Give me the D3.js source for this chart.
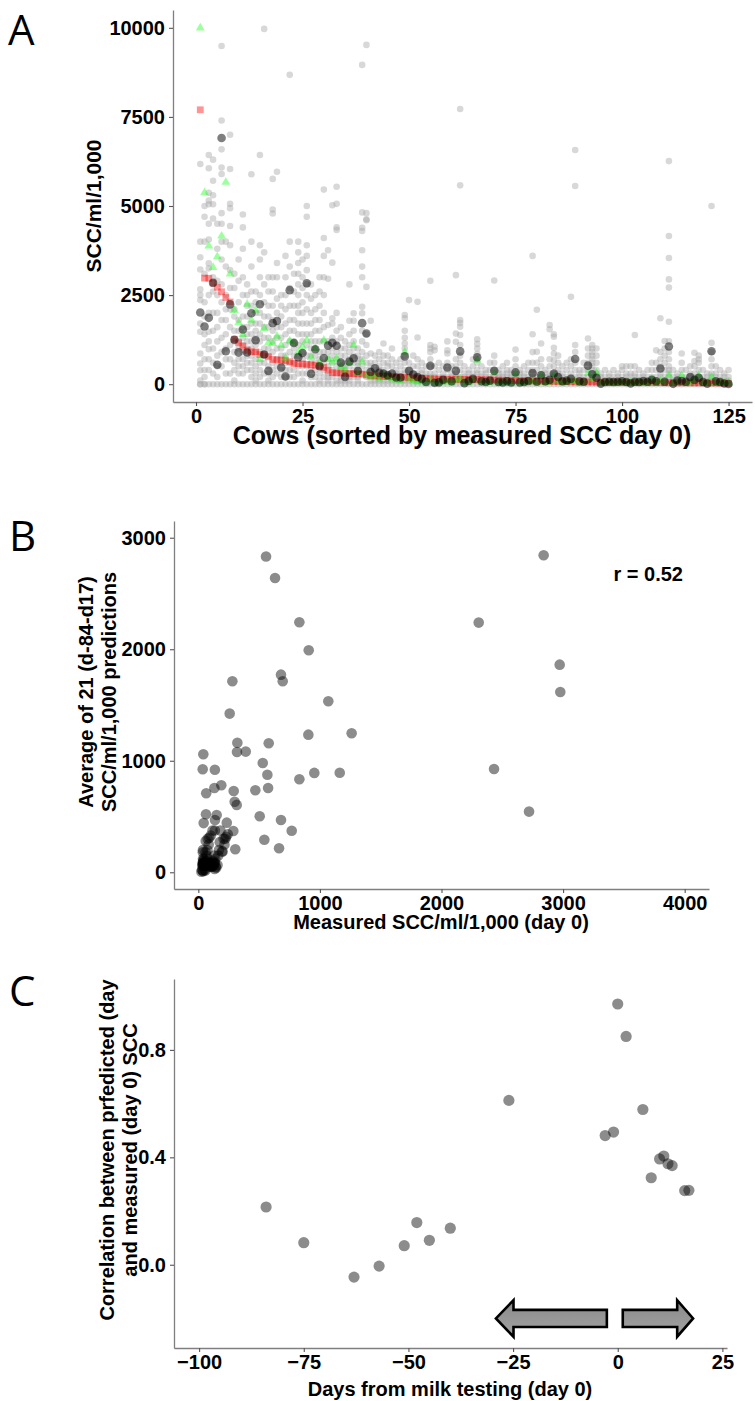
<!DOCTYPE html>
<html>
<head>
<meta charset="utf-8">
<script src="https://cdn.jsdelivr.net/npm/d3@7"></script>
<style>
body { margin: 0; background: #fff; }
svg text { font-family: "Liberation Sans", Arial, sans-serif; font-weight: bold; fill: #000; }
.panel-label { font-family: "Open Sans", "DejaVu Sans", sans-serif; font-weight: normal; font-size: 42px; }
</style>
</head>
<body>
<svg id="chart" width="755" height="1401"></svg>
<script>
// measured SCC at day 0, cows sorted by it (panel A red squares, panel B x)
const measuredDay0 = [7700, 2977, 2972, 2840, 2720, 2593, 2432, 2306, 1261, 1163,
  1069, 954, 908, 905, 831, 831, 768, 694, 680, 680,
  664, 631, 579, 574, 568, 557, 543, 530, 505, 469,
  390, 321, 318, 316, 304, 299, 291, 288, 280, 258,
  242, 234, 228, 222, 215, 208, 200, 194, 189, 182,
  176, 170, 164, 158, 151, 147, 143, 140, 137, 137,
  136, 136, 134, 133, 132, 132, 128, 124, 120, 117,
  114, 111, 108, 105, 102, 99, 96, 93, 90, 88,
  85, 82, 80, 77, 75, 72, 70, 67, 65, 64,
  63, 63, 61, 60, 58, 57, 56, 55, 54, 53,
  52, 51, 50, 49, 48, 47, 46, 45, 44, 42,
  41, 40, 40, 39, 39, 38, 38, 37, 37, 36,
  36, 35, 33, 30, 25];

// average of the 21 predictions per cow (panel A dark circles, panel B y)
const avgPrediction = [2013, 1617, 1862, 2843, 544, 6910, 926, 2239, 1247, 893,
  1534, 891, 1991, 1234, 2242, 834, 373, 1713, 1772, 469,
  215, 2639, 1157, 756, 875, 2831, 292, 980, 502, 735,
  1082, 1162, 1079, 604, 206, 633, 729, 370, 1713, 1423,
  341, 445, 318, 300, 250, 300, 187, 187, 780, 374,
  270, 200, 150, 65, 514, 40, 50, 120, 469, 80,
  374, 920, 30, 90, 150, 756, 80, 60, 100, 374,
  60, 50, 80, 50, 330, 50, 60, 90, 310, 70,
  250, 80, 120, 300, 200, 80, 100, 150, 708, 80,
  70, 520, 280, 180, 15, 60, 70, 60, 70, 80,
  60, 20, 70, 60, 90, 70, 120, 80, 441, 70,
  1058, 10, 100, 90, 70, 200, 120, 180, 60, 15,
  924, 80, 60, 20, 5];

// prediction made on day 0 (panel A green triangles)
const day0Prediction = [10000, 5374, 3876, 3277, 3577, 4157, 5665, 3090, 2069, 1723,
  1395, 2247, 1798, 2079, 693, 1564, 1161, 1142, 1348, 1096,
  730, 1217, 1142, 900, 1049, 1236, 749, 1000, 600, 1236,
  700, 627, 720, 500, 400, 600, 1096, 300, 627, 250,
  200, 250, 150, 280, 200, 150, 120, 100, 908, 150,
  100, 60, 80, 30, 120, 20, 40, 60, 100, 40,
  120, 150, 30, 50, 120, 674, 60, 40, 50, 300,
  30, 40, 60, 30, 290, 40, 30, 60, 80, 40,
  253, 50, 60, 250, 100, 40, 60, 80, 100, 30,
  60, 300, 150, 318, 30, 40, 60, 50, 40, 60,
  30, 50, 40, 60, 30, 50, 150, 40, 100, 60,
  250, 30, 60, 250, 40, 60, 120, 250, 40, 30,
  200, 40, 50, 30, 40];

// individual predictions per cow, in hundreds (panel A light grey dots)
const predictionsHundreds = [
  "61.8 40 35.6 32.2 26.6 25 23.6 17 14.7 8.6 5.8 3.9 1 0 0",
  "50 47 40 31 23 19 14 11 7 4 2 0 0",
  "64.3 60.6 53.7 51.5 50.5 45 40.6 33.9 32.5 25 20 14.7 12 9.8 7 4 0",
  "63 57.1 53 50.5 46.5 30 26 20 15 10 6 3 0",
  "45 38 29 25 20 16 12 8 5 2 0",
  "94.9 74 65.9 60.8 59 48 45 40 35 28 23 18 13 9 5 0",
  "40 33 25 21 18 14 10 7 3 0",
  "70 60.4 50.6 49.4 44.4 39 32 27 21 16 11 7 3 0",
  "31 27 21 19 15 12 9 6 4 1 0",
  "35 29 23 18 15 12 10 7 5 3 0",
  "47.6 44 38 30 25 19 16 13 11 9 7 5 3 0",
  "28 25 22 19 16 14 12 10 8 6 4 0",
  "58.9 40 33 26 22 17 14 12 10 8 6 4 2 0",
  "26 23 20 17 15 13 11 9 7 5 3 1 0",
  "64.3 39 35 30 25 20 17 14 12 9 6 4 2 0",
  "99.7 37 28 23 19 16 13 10 8 6 3 0",
  "30 26 22 19 16 13 10 8 5 3 1 0",
  "57.6 49 47.9 30 26 22 18 15 12 9 6 4 2 0",
  "59.6 34 30 24 20 16 13 10 7 5 3 0",
  "25 22 19 16 13 10 8 6 4 2 0",
  "36 30 25 21 17 14 11 8 6 4 2 0",
  "86.8 40 33 27 22 18 15 12 9 6 4 2 0",
  "31 26 22 18 15 12 10 8 6 4 2 0",
  "40 37 34 31 28 25 22 20 17 14 11 8 5 3 0",
  "35 30 27 23 20 17 14 12 9 7 5 3 1 0",
  "50 47 39 36 32 28 25 21 17 14 11 8 5 3 0",
  "28 24 20 17 14 12 10 8 6 4 2 0",
  "25 21 18 15 12 10 8 6 4 2 0",
  "30 26 22 18 15 12 9 7 5 3 1 0",
  "54.6 41 36 30 25 20 16 12 9 6 4 2 0",
  "37.6 29.6 16.6 12 9 7 5 3 2 1 0",
  "50.2 34.1 18.5 17 13 10 8 6 4 2 0",
  "55.4 50.6 44 43.3 20 15 12 9 7 5 3 1 0",
  "16 13 10 8 6 5 4 3 2 1 0",
  "12 10 8 6 5 4 3 2 1 0",
  "28 17.8 14 11 9 7 5 3 2 1 0",
  "19.9 17.8 15 12 10 8 6 4 3 2 0",
  "10 8 7 6 5 4 3 2 1 0",
  "89.6 48.2 43.9 43 37.6 33 30 21.7 19.9 15 12 9 7 5 3 0",
  "95.2 48 46 46.3 27.3 14 11 8 6 4 2 0",
  "17.8 8.6 6 5 4 3 2 1 0",
  "8 6 4 3 2 1 0",
  "9 7 5 4 3 2 1 0",
  "11.4 8 6 4 3 2 1 0",
  "8 6 5 3 2 1 0",
  "10 7 5 3 2 1 0",
  "6 4 3 2 1 0",
  "7 5 3 2 1 0",
  "19.4 18.5 15 13 11.4 10 8 6 4 3 2 1 0",
  "23.6 6 4 3 2 1 0",
  "8 5 3 2 1 0",
  "23.1 13.1 7 5 3 2 1 0",
  "6 4 3 2 1 0",
  "5 3 2 1 0",
  "29 11 10 9 7 5 3 2 1 0",
  "10.5 9.5 5 3 2 1 0",
  "6 4 2 1 0",
  "5 3 2 1 0",
  "12 9.5 8.6 6 4 2 1 0",
  "5 3 2 1 0",
  "30.6 14.2 11.9 7 5 3 2 1 0",
  "77.2 55.8 18 17.2 16.1 13.8 11 8 6 4 2 1 0",
  "5 3 2 1 0",
  "4 3 2 1 0",
  "7 5 3 2 1 0",
  "12.6 11.3 10 8.5 7 6 4 3 2 1 0",
  "5 3 2 1 0",
  "4 3 2 1 0",
  "6 4 2 1 0",
  "29.1 8 6 4 2 1 0",
  "4 3 2 1 0",
  "5 3 2 1 0",
  "6 4 3 2 1 0",
  "4 3 2 1 0",
  "9.7 7 5 3 2 1 0",
  "4 3 2 1 0",
  "5 3 2 1 0",
  "6 4 2 1 0",
  "36 14 9 6 4 3 2 1 0",
  "20.9 9.1 6 4 2 1 0",
  "11.4 7 5 3 2 1 0",
  "4 3 2 1 0",
  "16.6 15.4 7 5 3 2 1 0",
  "14 13.3 10.2 8.6 6.7 5 3 2 1 0",
  "8 6 4 3 2 1 0",
  "5 3 2 1 0",
  "6 4 2 1 0",
  "24.5 7 5 3 2 1 0",
  "65.7 55.6 11 9 6 4 2 1 0",
  "4 3 2 1 0",
  "6 4 2 1 0",
  "12.8 10 8 6 4 2 1 0",
  "11 10 9 8 7 6 5 4 3 2 1 0",
  "10 8 6 4 3 2 1 0",
  "3 2 1 0",
  "4 2 1 0",
  "3 2 1 0",
  "4 2 1 0",
  "3 2 1 0",
  "5 4 2 1 0",
  "5 3 2 1 0",
  "5 3 2 1 0",
  "13.8 5 3 2 1 0",
  "4 2 1 0",
  "3 2 1 0",
  "4 2 1 0",
  "6 4 2 1 0",
  "9.5 6 4 2 1 0",
  "18.5 9 7 5 3 2 1 0",
  "12.1 10 8 6 4 2 1 0",
  "62.6 41.6 35.4 29.4 27.1 17.5 12 9 7 5 4 3 2 1 0",
  "4 2 1 0",
  "3 2 1 0",
  "8.6 6 4 2 1 0",
  "4 2 1 0",
  "5 3 2 1 0",
  "8.8 6.5 5 3 2 1 0",
  "8 7 6 4 2 1 0",
  "4 2 1 0",
  "3 2 1 0",
  "50 11.6 9 7 5 3 2 1 0",
  "5 3 2 1 0",
  "4 2 1 0",
  "3 2 1 0",
  "4 2 1 0"
];

// panel C: day of prediction vs correlation with measured day 0 SCC
const predictionDays = [-84, -75, -63, -57, -51, -48, -45, -40, -26, -3, -1, 0, 2, 6, 8, 10, 11, 12, 13, 16, 17];
const correlations = [0.215, 0.082, -0.046, -0.005, 0.071, 0.157, 0.091, 0.136, 0.612, 0.481, 0.494,
  0.971, 0.850, 0.578, 0.324, 0.394, 0.405, 0.376, 0.369, 0.276, 0.277];

const ticksA_x = [0, 25, 50, 75, 100, 125];
const ticksA_y = [0, 2500, 5000, 7500, 10000];
const ticksB_x = [0, 1000, 2000, 3000, 4000];
const ticksB_y = [0, 1000, 2000, 3000];
const ticksC_x = [-100, -75, -50, -25, 0, 25];
const ticksC_y = [0, 0.4, 0.8];

const svg = d3.select("#chart");

const cows = measuredDay0.map(function(d, i) {
  return {cow: i + 1, measured: d, avg: avgPrediction[i], day0: day0Prediction[i]};
});

let grayPoints = [];
predictionsHundreds.forEach(function(s, i) {
  s.split(" ").forEach(function(v) {
    grayPoints.push({cow: i + 1, value: +v * 100});
  });
});

// common axis styling, ggplot classic look
function styleAxis(g) {
  g.select(".domain").attr("stroke", "#7f7f7f").attr("stroke-width", 1.3);
  g.selectAll(".tick line").attr("stroke", "#555").attr("stroke-width", 1.1);
  g.selectAll(".tick text").attr("font-size", 20).attr("fill", "#000")
    .attr("font-family", "'Liberation Sans', Arial, sans-serif").attr("font-weight", "bold");
}

function drawAxes(x, y, xt, yt, yFormat) {
  let gx = svg.append("g").attr("transform", "translate(0," + y.range()[0] + ")")
    .call(d3.axisBottom(x).tickValues(xt).tickSize(4).tickSizeOuter(0).tickPadding(3).tickFormat(d3.format("d")));
  styleAxis(gx);
  let gy = svg.append("g").attr("transform", "translate(" + x.range()[0] + ",0)")
    .call(d3.axisLeft(y).tickValues(yt).tickSize(4).tickSizeOuter(0).tickPadding(4).tickFormat(yFormat));
  styleAxis(gy);
}

function rotatedTitle(lines, xs, cy, size) {
  lines.forEach(function(t, i) {
    svg.append("text")
      .attr("transform", "translate(" + xs[i] + "," + cy + ") rotate(-90)")
      .attr("text-anchor", "middle").attr("font-size", size).text(t);
  });
}

// ---------- Panel A ----------
const xA = d3.scaleLinear().domain([-5.4, 130.5]).range([173, 752]);
const yA = d3.scaleLinear().domain([-500, 10500]).range([402, 10]);

let gA = svg.append("g");
gA.selectAll("circle.pred").data(grayPoints).enter().append("circle")
  .attr("cx", function(d) { return xA(d.cow); })
  .attr("cy", function(d) { return yA(d.value); })
  .attr("r", 3.3)
  .style("fill", "#a8a8a8")
  .attr("fill-opacity", 0.45);

gA.selectAll("path.meas").data(cows).enter().append("path")
  .attr("d", d3.symbol().type(d3.symbolSquare).size(46))
  .attr("transform", function(d) { return "translate(" + xA(d.cow) + "," + yA(d.measured) + ")"; })
  .style("fill", "#ff0000")
  .attr("fill-opacity", 0.42);

gA.selectAll("path.day0").data(cows).enter().append("path")
  .attr("d", d3.symbol().type(d3.symbolTriangle).size(34))
  .attr("transform", function(d) { return "translate(" + xA(d.cow) + "," + yA(d.day0) + ")"; })
  .style("fill", "#00ff00")
  .attr("fill-opacity", 0.38);

gA.selectAll("circle.avg").data(cows).enter().append("circle")
  .attr("cx", function(d) { return xA(d.cow); })
  .attr("cy", function(d) { return yA(d.avg); })
  .attr("r", 4.3)
  .style("fill", "#000")
  .attr("fill-opacity", 0.5);

drawAxes(xA, yA, ticksA_x, ticksA_y, d3.format("d"));
svg.append("text").attr("x", 462).attr("y", 444).attr("text-anchor", "middle").attr("font-size", 25)
  .text("Cows (sorted by measured SCC day 0)");
rotatedTitle(["SCC/ml/1,000"], [101], 206, 21);

// ---------- Panel B ----------
const xB = d3.scaleLinear().domain([-200, 4200]).range([174, 709]);
const yB = d3.scaleLinear().domain([-150, 3150]).range([889, 521]);
const inB = cows.filter(function(d) { return d.measured <= 4200 && d.avg <= 3150; });

svg.append("g").selectAll("circle").data(inB).enter().append("circle")
  .attr("cx", function(d) { return xB(d.measured); })
  .attr("cy", function(d) { return yB(d.avg); })
  .attr("r", 5.3)
  .style("fill", "#000")
  .attr("fill-opacity", 0.45);

drawAxes(xB, yB, ticksB_x, ticksB_y, d3.format("d"));
svg.append("text").attr("x", xB(3700)).attr("y", yB(2610)).attr("text-anchor", "middle").attr("font-size", 20)
  .text("r = 0.52");
svg.append("text").attr("x", 441).attr("y", 929).attr("text-anchor", "middle").attr("font-size", 20)
  .text("Measured SCC/ml/1,000 (day 0)");
rotatedTitle(["Average of 21 (d-84-d17)", "SCC/ml/1,000 predictions"], [93, 116], 692, 20);

// ---------- Panel C ----------
const xC = d3.scaleLinear().domain([-106, 26.1]).range([174, 727]);
const yC = d3.scaleLinear().domain([-0.31, 1.064]).range([1348, 979]);

// arrows before / after day 0 (annotation, in data units)
const arrowY = -0.2, headHalf = 0.068, shaftHalf = 0.032;
const arrows = [
  {tail: -2.6, base: -24.9, tip: -29.1},
  {tail: 1.2, base: 14.2, tip: 18.0}
];
let defs = svg.append("defs");
let grad = defs.append("linearGradient").attr("id", "arrowFill").attr("x1", 0).attr("y1", 0).attr("x2", 0).attr("y2", 1);
grad.append("stop").attr("offset", "0%").attr("stop-color", "#8a8a8a");
grad.append("stop").attr("offset", "100%").attr("stop-color", "#a3a3a3");

svg.append("g").selectAll("path").data(arrows).enter().append("path")
  .attr("d", function(a) {
    let pts = [[a.tail, arrowY + shaftHalf], [a.base, arrowY + shaftHalf], [a.base, arrowY + headHalf],
      [a.tip, arrowY], [a.base, arrowY - headHalf], [a.base, arrowY - shaftHalf], [a.tail, arrowY - shaftHalf]];
    return d3.line().x(function(p) { return xC(p[0]); }).y(function(p) { return yC(p[1]); })(pts) + "Z";
  })
  .style("fill", "url(#arrowFill)")
  .attr("stroke", "#000")
  .attr("stroke-width", 2.6)
  .attr("stroke-linejoin", "miter");

svg.append("g").selectAll("circle").data(predictionDays).enter().append("circle")
  .attr("cx", function(d) { return xC(d); })
  .attr("cy", function(d, i) { return yC(correlations[i]); })
  .attr("r", 5.6)
  .style("fill", "#000")
  .attr("fill-opacity", 0.45);

drawAxes(xC, yC, ticksC_x, ticksC_y, d3.format(".1f"));
svg.append("text").attr("x", 450).attr("y", 1396).attr("text-anchor", "middle").attr("font-size", 20)
  .text("Days from milk testing (day 0)");
rotatedTitle(["Correlation between prfedicted (day", "and measured (day 0) SCC"], [114, 137], 1150, 20);

// panel letters
svg.append("text").attr("class", "panel-label").attr("x", 8).attr("y", 45).text("A");
svg.append("text").attr("class", "panel-label").attr("x", 9).attr("y", 551).text("B");
svg.append("text").attr("class", "panel-label").attr("x", 9).attr("y", 1006).text("C");
</script>
</body>
</html>
